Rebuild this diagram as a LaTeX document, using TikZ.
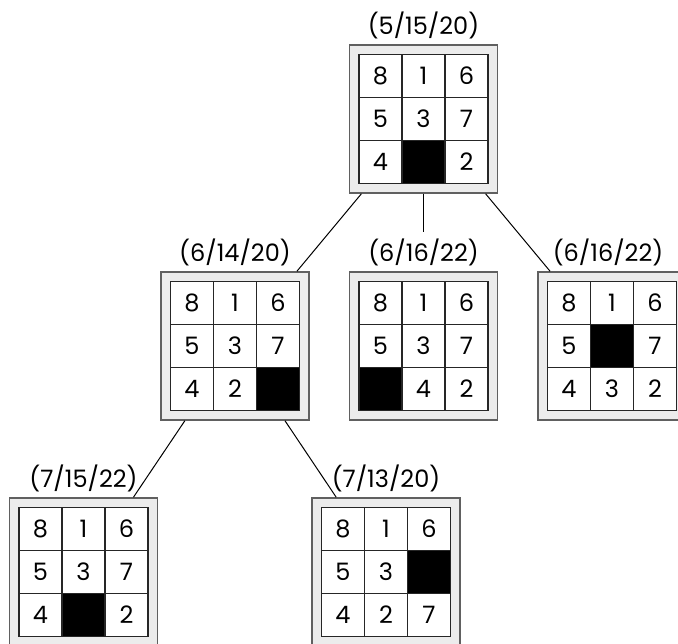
\documentclass[tikz,border=0pt]{standalone}
\usepackage{fontspec}
\setmainfont{Poppins}
\definecolor{boardgray}{HTML}{ECECEC}
\definecolor{rimgray}{HTML}{606060}
% one board: name, x, y, tiles row by row (0 = blank)
\newcommand{\puzzle}[4]{%
  \node[board] (#1) at (#2,#3) {};
  \foreach \v [count=\k from 0] in {#4} {
    \pgfmathtruncatemacro{\row}{\k/3}
    \pgfmathtruncatemacro{\col}{mod(\k,3)}
    \ifnum\v=0
      \node[cell, fill=black] (#1-\k) at ({#2+(\col-1)*43},{#3+(\row-1)*43}) {};
    \else
      \node[cell] (#1-\k) at ({#2+(\col-1)*43},{#3+(\row-1)*43}) {\v};
    \fi
  }
}
\begin{document}
\begin{tikzpicture}[x=1pt, y=-1pt, line width=1pt,
  every node/.style={font=\fontsize{24}{28}\selectfont},
  board/.style={draw=rimgray, fill=boardgray, line width=1.5pt, minimum size=148pt, inner sep=0pt},
  cell/.style={draw=black!85, fill=white, line width=1.5pt, minimum size=43pt, inner sep=0pt},
  tag/.style={inner sep=6pt}]
  \useasboundingbox (0,0) rectangle (678,644);
  \puzzle{s0}{423.5}{119}{8,1,6,5,3,7,4,0,2}
  \puzzle{s1}{235}{346}{8,1,6,5,3,7,4,2,0}
  \puzzle{s2}{423.5}{346}{8,1,6,5,3,7,0,4,2}
  \puzzle{s3}{612}{346}{8,1,6,5,0,7,4,3,2}
  \puzzle{s4}{83.5}{572}{8,1,6,5,3,7,4,0,2}
  \puzzle{s5}{386}{572}{8,1,6,5,3,0,4,2,7}
  \node[tag] (t0) at (423.5,25) {(5/15/20)};
  \node[tag] (t1) at (235,252) {(6/14/20)};
  \node[tag] (t2) at (423.5,252) {(6/16/22)};
  \node[tag] (t3) at (608,252) {(6/16/22)};
  \node[tag] (t4) at (83.5,478) {(7/15/22)};
  \node[tag] (t5) at (386,478) {(7/13/20)};
  \draw (s0) -- (s1);
  \draw (s0) -- (t2);
  \draw (s0) -- (s3);
  \draw (s1) -- (s4);
  \draw (s1) -- (s5);
\end{tikzpicture}
\end{document}
